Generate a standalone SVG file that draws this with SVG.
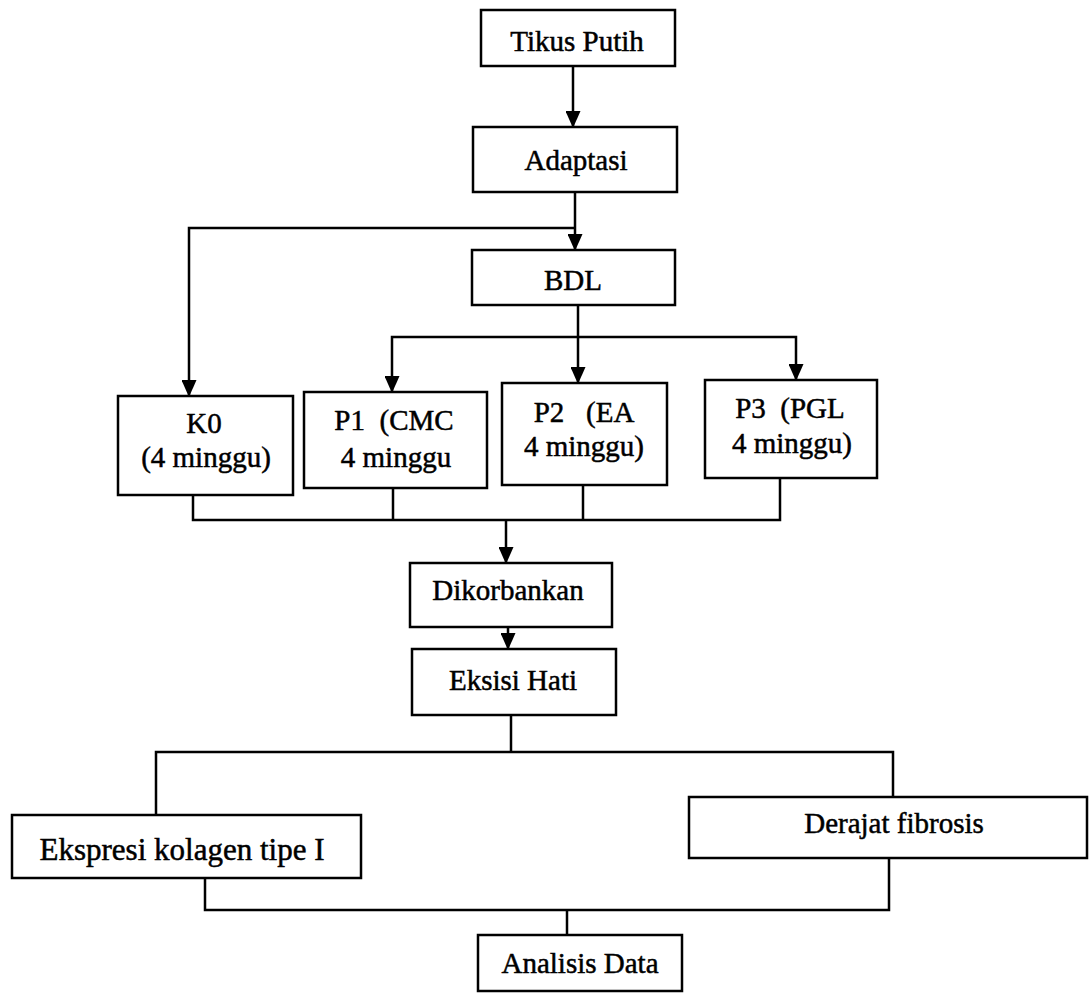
<svg xmlns="http://www.w3.org/2000/svg" width="1090" height="993" viewBox="0 0 1090 993">
<style>
.box{fill:#fff;stroke:#000;stroke-width:2.5}
.t{font-family:"Liberation Serif","Times New Roman",serif;font-size:29px;fill:#000;stroke:#000;stroke-width:0.5;text-anchor:middle;white-space:pre}
.c{fill:none;stroke:#000;stroke-width:2.5}
</style>
<defs>
<marker id="ah" markerUnits="userSpaceOnUse" markerWidth="17" markerHeight="15" refX="16" refY="7.5" orient="auto" viewBox="0 0 17 15">
<path d="M0,0 L17,7.5 L0,15 Z" fill="#000"/>
</marker>
</defs>
<rect width="1090" height="993" fill="#fff"/>
<g id="connectors">
<path class="c" d="M573,66 V127" marker-end="url(#ah)"/>
<path class="c" d="M575,192 V250" marker-end="url(#ah)"/>
<path class="c" d="M575,228 H189 V396" marker-end="url(#ah)"/>
<path class="c" d="M578,305 V383" marker-end="url(#ah)"/>
<path class="c" d="M578,337 H392 V392" marker-end="url(#ah)"/>
<path class="c" d="M578,337 H796 V380" marker-end="url(#ah)"/>
<path class="c" d="M193,495 V520 H780 V478"/>
<path class="c" d="M393,488 V520"/>
<path class="c" d="M583,485 V520"/>
<path class="c" d="M506,520 V563" marker-end="url(#ah)"/>
<path class="c" d="M508,627 V649" marker-end="url(#ah)"/>
<path class="c" d="M511,715 V752"/>
<path class="c" d="M156,815 V752 H893 V797"/>
<path class="c" d="M205,878 V910 H889 V858"/>
<path class="c" d="M567,910 V935"/>
</g>
<g id="tikus"><rect class="box" x="481" y="10" width="194" height="56"/><text class="t" x="577" y="51">Tikus Putih</text></g>
<g id="adaptasi"><rect class="box" x="473" y="127" width="204" height="65"/><text class="t" x="576" y="170">Adaptasi</text></g>
<g id="bdl"><rect class="box" x="472" y="250" width="203" height="55"/><text class="t" x="573" y="290">BDL</text></g>
<g id="k0"><rect class="box" x="118" y="396" width="175" height="99"/><text class="t" x="204" y="433">K0</text><text class="t" x="206" y="467">(4 minggu)</text></g>
<g id="p1"><rect class="box" x="304" y="392" width="183" height="96"/><text class="t" x="394" y="430">P1  (CMC</text><text class="t" x="396" y="467">4 minggu</text></g>
<g id="p2"><rect class="box" x="502" y="383" width="165" height="102"/><text class="t" x="584" y="422">P2   (EA</text><text class="t" x="584" y="456">4 minggu)</text></g>
<g id="p3"><rect class="box" x="705" y="380" width="172" height="98"/><text class="t" x="790" y="418">P3  (PGL</text><text class="t" x="792" y="453">4 minggu)</text></g>
<g id="dikorbankan"><rect class="box" x="410" y="563" width="202" height="64"/><text class="t" x="508" y="600">Dikorbankan</text></g>
<g id="eksisi"><rect class="box" x="412" y="649" width="204" height="66"/><text class="t" x="513" y="690">Eksisi Hati</text></g>
<g id="ekspresi"><rect class="box" x="12" y="815" width="349" height="63"/><text class="t" x="182" y="860" style="font-size:31px">Ekspresi kolagen tipe I</text></g>
<g id="derajat"><rect class="box" x="689" y="797" width="398" height="61"/><text class="t" x="894" y="833">Derajat fibrosis</text></g>
<g id="analisis"><rect class="box" x="478" y="935" width="204" height="56"/><text class="t" x="580" y="973">Analisis Data</text></g>
</svg>
